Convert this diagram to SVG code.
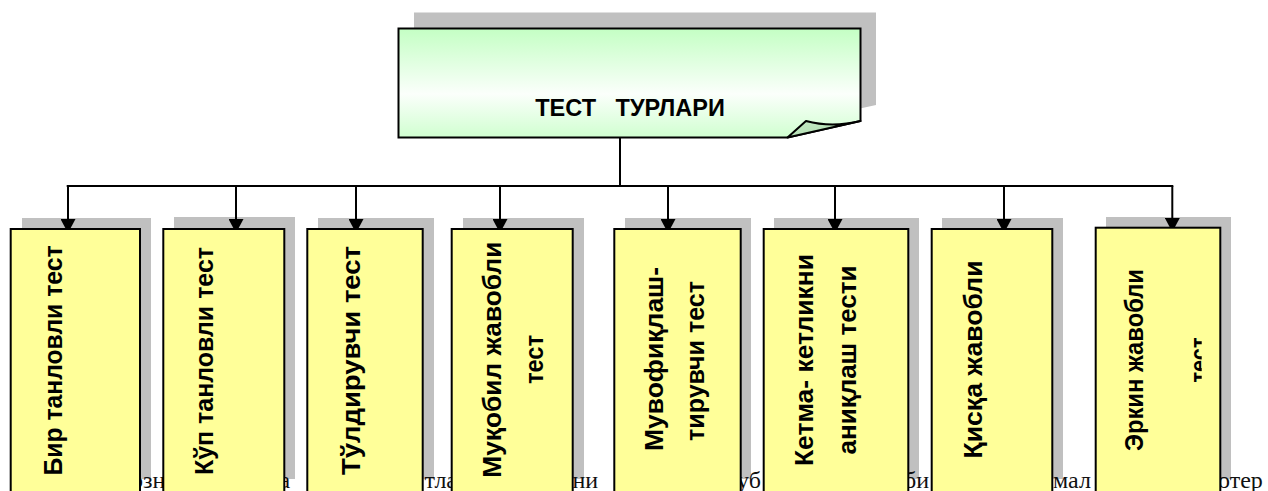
<svg xmlns="http://www.w3.org/2000/svg" width="1268" height="491" viewBox="0 0 1268 491">
<defs>
<linearGradient id="gTop" x1="0" y1="0" x2="0" y2="1">
<stop offset="0" stop-color="#c4ffc4"/>
<stop offset="0.6" stop-color="#fbfffb"/>
<stop offset="1" stop-color="#d0ffd0"/>
</linearGradient>
<linearGradient id="gFold" x1="0" y1="0" x2="1" y2="1">
<stop offset="0" stop-color="#c8ecc8"/>
<stop offset="1" stop-color="#a6d6a6"/>
</linearGradient>
<marker id="arr" viewBox="0 0 14 15" refX="13" refY="7.5" markerWidth="14" markerHeight="15" orient="auto" markerUnits="userSpaceOnUse">
<path d="M0,0 L14,7.5 L0,15 Z" fill="#000"/>
</marker>
<clipPath id="clip8"><rect x="1090" y="220" width="111.7" height="280"/></clipPath>
</defs>
<style>
.sh{fill:#c0c0c0;stroke:none}
.box{fill:#ffff99;stroke:#000;stroke-width:2}
.lbl{font-family:"Liberation Sans",Arial,sans-serif;font-weight:bold;font-size:26px;fill:#000;text-anchor:middle}
.bg{font-family:"Liberation Serif","Times New Roman",serif;font-size:24px;fill:#111}
.con{stroke:#000;stroke-width:2;fill:none}
</style>
<rect width="1268" height="491" fill="#fff"/>

<!-- shadows -->
<g id="shadows">
<path class="sh" d="M414,12.5 H876 V105 L803,121 H414 Z"/>
<rect class="sh" x="22" y="218" width="129" height="261"/>
<rect class="sh" x="174" y="217" width="121" height="262"/>
<rect class="sh" x="318" y="218" width="116" height="261"/>
<rect class="sh" x="463" y="218" width="121" height="261"/>
<rect class="sh" x="625" y="218" width="126" height="261"/>
<rect class="sh" x="774" y="218" width="145" height="261"/>
<rect class="sh" x="942" y="218" width="121" height="261"/>
<rect class="sh" x="1106" y="217" width="125" height="262"/>
</g>

<!-- background text line -->
<g id="bgtext">
<text class="bg" x="131" y="488">озн</text>
<text class="bg" x="279.5" y="488">а</text>
<text class="bg" x="424.5" y="488">тла</text>
<text class="bg" x="572.5" y="488">ни</text>
<text class="bg" x="737" y="488">уб</text>
<text class="bg" x="904" y="488">би</text>
<text class="bg" x="1053" y="488">мал</text>
<text class="bg" x="1218" y="488">отер</text>
</g>

<g id="root">
<path d="M398.5,28.5 H860.5 V121 L787.5,137.5 H398.5 Z" fill="url(#gTop)" stroke="#000" stroke-width="2"/>
<path d="M787.5,137.5 L806,121 Q832,128 860.5,121 Z" fill="url(#gFold)" stroke="#000" stroke-width="2" stroke-linejoin="round"/>
<text x="630" y="116" style="font-family:'Liberation Sans',Arial,sans-serif;font-weight:bold;font-size:23.5px;fill:#000;text-anchor:middle;white-space:pre" xml:space="preserve">ТЕСТ   ТУРЛАРИ</text>
</g>

<g id="connectors">
<line class="con" x1="620" y1="137.5" x2="620" y2="186"/>
<line class="con" x1="67.7" y1="186" x2="1172.3" y2="186" stroke-linecap="square"/>
<line class="con" x1="68" y1="186" x2="68" y2="232" marker-end="url(#arr)"/>
<line class="con" x1="236" y1="186" x2="236" y2="232" marker-end="url(#arr)"/>
<line class="con" x1="356" y1="186" x2="356" y2="232" marker-end="url(#arr)"/>
<line class="con" x1="500" y1="186" x2="500" y2="232" marker-end="url(#arr)"/>
<line class="con" x1="668" y1="186" x2="668" y2="232" marker-end="url(#arr)"/>
<line class="con" x1="835" y1="186" x2="835" y2="232" marker-end="url(#arr)"/>
<line class="con" x1="1004" y1="186" x2="1004" y2="232" marker-end="url(#arr)"/>
<line class="con" x1="1172.3" y1="186" x2="1172.3" y2="231" marker-end="url(#arr)"/>
</g>

<g id="n1">
<rect class="box" x="10.7" y="229" width="129.3" height="264"/>
<text class="lbl" transform="translate(61.5,360.5) rotate(-90)" textLength="230" lengthAdjust="spacingAndGlyphs">Бир танловли тест</text>
</g>
<g id="n2">
<rect class="box" x="163.3" y="229" width="121" height="264"/>
<text class="lbl" transform="translate(213.3,361) rotate(-90)" textLength="228" lengthAdjust="spacingAndGlyphs">Кўп танловли тест</text>
</g>
<g id="n3">
<rect class="box" x="307.3" y="229" width="115.4" height="264"/>
<text class="lbl" transform="translate(360,360.5) rotate(-90)" textLength="229" lengthAdjust="spacingAndGlyphs">Тўлдирувчи тест</text>
</g>
<g id="n4">
<rect class="box" x="451.7" y="229" width="121" height="264"/>
<text class="lbl" transform="translate(501,359.7) rotate(-90)" textLength="236" lengthAdjust="spacingAndGlyphs">Муқобил жавобли</text>
<text class="lbl" transform="translate(543.3,359.5) rotate(-90)" textLength="49" lengthAdjust="spacingAndGlyphs">тест</text>
</g>
<g id="n5">
<rect class="box" x="614.3" y="229" width="126.4" height="264"/>
<text class="lbl" transform="translate(663.3,359) rotate(-90)" textLength="184" lengthAdjust="spacingAndGlyphs">Мувофиқлаш-</text>
<text class="lbl" transform="translate(704,361) rotate(-90)" textLength="160" lengthAdjust="spacingAndGlyphs">тирувчи тест</text>
</g>
<g id="n6">
<rect class="box" x="763.7" y="229" width="144.6" height="264"/>
<text class="lbl" transform="translate(813.3,360) rotate(-90)" textLength="212" lengthAdjust="spacingAndGlyphs">Кетма- кетликни</text>
<text class="lbl" transform="translate(855.5,360) rotate(-90)" textLength="189" lengthAdjust="spacingAndGlyphs">аниқлаш тести</text>
</g>
<g id="n7">
<rect class="box" x="931.7" y="229" width="120.6" height="264"/>
<text class="lbl" transform="translate(981.7,359.5) rotate(-90)" textLength="198" lengthAdjust="spacingAndGlyphs">Қисқа жавобли</text>
</g>
<g id="n8">
<rect class="box" x="1095.7" y="227.7" width="124.6" height="266"/>
<text class="lbl" transform="translate(1142.7,360) rotate(-90)" textLength="182" lengthAdjust="spacingAndGlyphs">Эркин жавобли</text>
<g clip-path="url(#clip8)">
<text class="lbl" transform="translate(1207.5,360) rotate(-90)" textLength="45" lengthAdjust="spacingAndGlyphs">тест</text>
</g>
</g>
</svg>
